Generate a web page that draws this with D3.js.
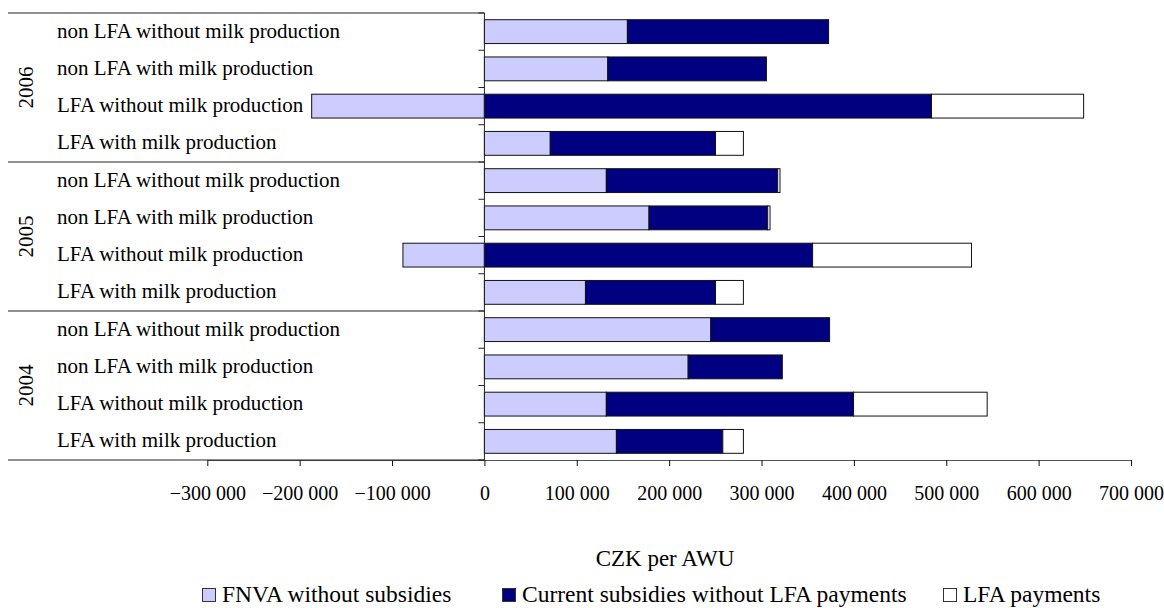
<!DOCTYPE html>
<html>
<head>
<meta charset="utf-8">
<script src="https://cdn.jsdelivr.net/npm/d3@7"></script>
<style>
  html, body { margin: 0; padding: 0; background: #fff; }
  svg { display: block; }
  svg text { font-family: "Liberation Serif", "Times New Roman", Times, "DejaVu Serif", serif; }
</style>
</head>
<body>
<svg id="chart" width="1164" height="608"></svg>
<script>
// Years, top to bottom, and the farm types listed within each year
const years = ["2006", "2005", "2004"];
const farmTypes = [
  "non LFA without milk production",
  "non LFA with milk production",
  "LFA without milk production",
  "LFA with milk production"
];

// Values in CZK per AWU, one per row (2006 rows first, then 2005, then 2004)
const fnvaWithoutSubsidies = [154800, 133600, -187000, 71300, 132000, 178200, -88200, 109400, 245100, 220600, 132000, 142900];
const currentSubsidies     = [217800, 171700, 484000, 178900, 185500, 128500, 355300, 140800, 128600, 101900, 267600, 115200];
const lfaPayments          = [0, 0, 164700, 30200, 2500, 2500, 172000, 30200, 0, 0, 144700, 22300];

const seriesNames = ["FNVA without subsidies", "Current subsidies without LFA payments", "LFA payments"];
const seriesColors = ["#ccccff", "#000080", "#ffffff"];
const xTicks = [-300000, -200000, -100000, 0, 100000, 200000, 300000, 400000, 500000, 600000, 700000];

// Build one record per bar
const rows = [];
years.forEach((yr, gi) => farmTypes.forEach((ft, fi) => {
  const i = gi * farmTypes.length + fi;
  rows.push({ id: i, year: yr, type: ft, s0: fnvaWithoutSubsidies[i], s1: currentSubsidies[i], s2: lfaPayments[i] });
}));

const svg = d3.select("#chart");
const plotTop = 13, plotBottom = 460, labelLeft = 8;

const x = d3.scaleLinear().domain([-300000, 700000]).range([207.3, 1131]);
const y = d3.scaleBand().domain(rows.map(d => d.id)).range([plotTop, plotBottom])
  .paddingInner(0.36).paddingOuter(0.18);

const stack = d3.stack().keys(["s0", "s1", "s2"]).offset(d3.stackOffsetDiverging);
const stacked = stack(rows);

// Bars
svg.append("g").selectAll("g").data(stacked).join("g")
  .attr("fill", (d, i) => seriesColors[i])
  .selectAll("rect").data(d => d).join("rect")
    .attr("x", d => x(Math.min(d[0], d[1])))
    .attr("width", d => Math.abs(x(d[1]) - x(d[0])))
    .attr("y", d => y(d.data.id))
    .attr("height", y.bandwidth())
    .attr("stroke", "#111")
    .attr("stroke-width", 1);

// Value axis along the bottom
const fmt = v => (v < 0 ? "\u2212" : "") + d3.format(",")(Math.abs(v)).replace(/,/g, " ");
const xAxis = svg.append("g").attr("transform", `translate(0,${plotBottom})`)
  .call(d3.axisBottom(x).tickValues(xTicks).tickFormat(fmt).tickSize(6).tickPadding(20).tickSizeOuter(0));
xAxis.attr("font-family", null);
xAxis.select(".domain").attr("stroke", "#555");
xAxis.selectAll(".tick line").attr("stroke", "#111");
xAxis.selectAll("text").attr("font-size", 20).attr("fill", "#000");

// Category axis at zero
const x0 = x(0);
svg.append("line").attr("x1", x0).attr("x2", x0).attr("y1", plotTop).attr("y2", plotBottom)
  .attr("stroke", "#222").attr("stroke-width", 1);
const step = y.step();
d3.range(rows.length + 1).forEach(k => {
  const yy = plotTop + k * step;
  svg.append("line").attr("x1", x0 - 6).attr("x2", x0).attr("y1", yy).attr("y2", yy)
    .attr("stroke", "#222");
});

// Year group separators
d3.range(years.length + 1).forEach(g => {
  const yy = plotTop + g * farmTypes.length * step;
  svg.append("line").attr("x1", labelLeft).attr("x2", x0).attr("y1", yy).attr("y2", yy)
    .attr("stroke", "#222").attr("stroke-width", 1.2);
});

// Farm type labels
svg.append("g").selectAll("text").data(rows).join("text")
  .attr("x", 57)
  .attr("y", d => y(d.id) + y.bandwidth() / 2 + 6)
  .attr("font-size", 21)
  .attr("fill", "#000")
  .text(d => d.type);

// Year labels, rotated
years.forEach((yr, g) => {
  const cy = plotTop + (g + 0.5) * farmTypes.length * step;
  svg.append("text")
    .attr("transform", `translate(33,${cy}) rotate(-90)`)
    .attr("text-anchor", "middle")
    .attr("font-size", 21)
    .attr("fill", "#000")
    .text(yr);
});

// Axis title
svg.append("text").attr("x", 665).attr("y", 566).attr("text-anchor", "middle")
  .attr("font-size", 23).attr("fill", "#000").text("CZK per AWU");

// Legend
const legendX = [202, 502, 943];
const legend = svg.append("g").selectAll("g").data(seriesNames).join("g")
  .attr("transform", (d, i) => `translate(${legendX[i]},588)`);
legend.append("rect").attr("width", 13).attr("height", 13).attr("x", 0.5).attr("y", 0.5)
  .attr("fill", (d, i) => seriesColors[i]).attr("stroke", "#333");
legend.append("text").attr("x", 20).attr("y", 14).attr("font-size", 23.5)
  .attr("fill", "#000").text(d => d);
</script>
</body>
</html>
